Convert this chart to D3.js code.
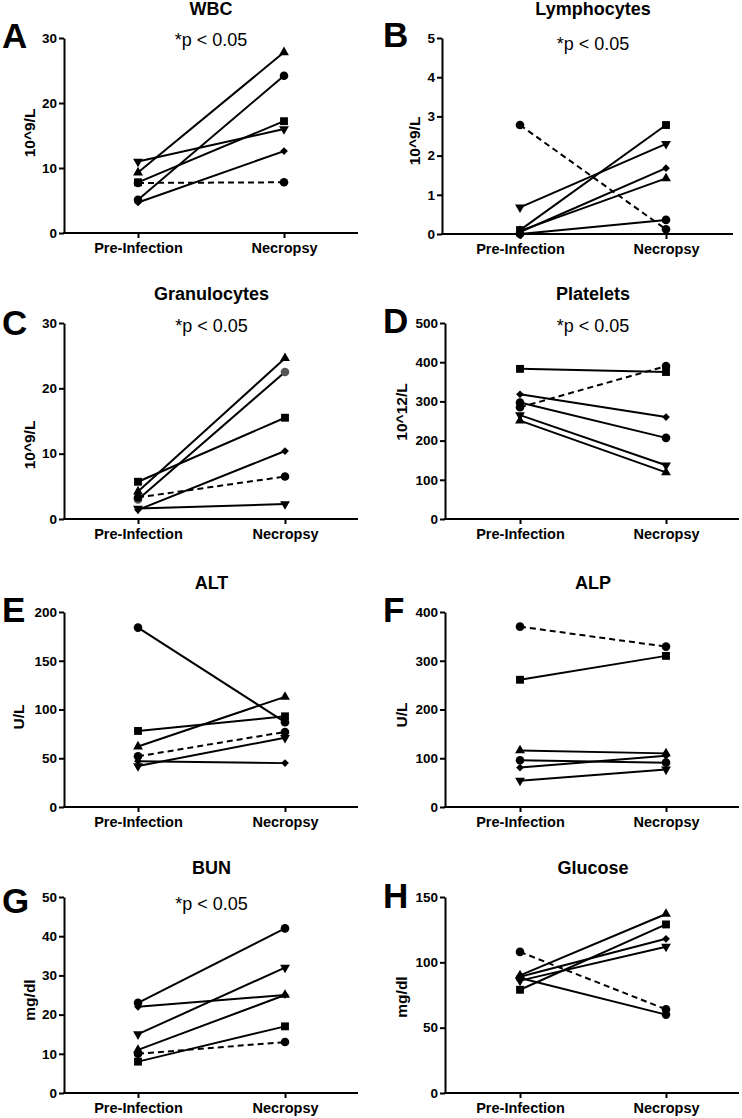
<!DOCTYPE html>
<html><head><meta charset="utf-8">
<script src="https://cdn.jsdelivr.net/npm/d3@7"></script>
<style>
body{margin:0;background:#fff}
svg{display:block}
text{font-family:"Liberation Sans",Arial,Helvetica,sans-serif;fill:#000}
</style>
</head><body>
<svg id="chart" width="742" height="1118"></svg>
<script>
// ---------- data ----------
const timepoints = ["Pre-Infection", "Necropsy"];
// subject order: solid-line circle, dashed-line circle, square, triangle up, triangle down, diamond
const subjects = ["circleSolid", "circleDashed", "square", "triangleUp", "triangleDown", "diamond"];

const panelLetters = ["A", "B", "C", "D", "E", "F", "G", "H"];
const panelTitles = ["WBC", "Lymphocytes", "Granulocytes", "Platelets", "ALT", "ALP", "BUN", "Glucose"];
const yAxisLabels = ["10^9/L", "10^9/L", "10^9/L", "10^12/L", "U/L", "U/L", "mg/dl", "mg/dl"];
const pValueLabels = ["*p < 0.05", "*p < 0.05", "*p < 0.05", "*p < 0.05", "", "", "*p < 0.05", ""];

const wbcTicks = [0, 10, 20, 30];
const lymphTicks = [0, 1, 2, 3, 4, 5];
const granTicks = [0, 10, 20, 30];
const pltTicks = [0, 100, 200, 300, 400, 500];
const altTicks = [0, 50, 100, 150, 200];
const alpTicks = [0, 100, 200, 300, 400];
const bunTicks = [0, 10, 20, 30, 40, 50];
const gluTicks = [0, 50, 100, 150];

const wbcPre = [5.1, 7.7, 7.8, 9.3, 11.0, 4.7];
const wbcNec = [24.2, 7.8, 17.2, 27.8, 16.0, 12.6];
const lymphPre = [0.0, 2.78, 0.1, 0.08, 0.68, 0.05];
const lymphNec = [0.36, 0.12, 2.78, 1.42, 2.3, 1.68];
const granPre = [3.0, 3.3, 5.7, 4.2, 1.6, 1.4];
const granNec = [22.5, 6.5, 15.5, 24.6, 2.3, 10.4];
const pltPre = [297, 285, 383, 251, 265, 318];
const pltNec = [207, 390, 375, 119, 137, 260];
const altPre = [184, 52, 78, 62, 42, 47];
const altNec = [87, 77, 93, 113, 71, 45];
const alpPre = [96, 370, 261, 116, 54, 81];
const alpNec = [91, 329, 310, 110, 77, 105];
const bunPre = [23, 10, 8, 11, 15, 22];
const bunNec = [42, 13, 17, 25, 32, 25];
const gluPre = [88, 108, 79, 90, 86, 89];
const gluNec = [60, 64, 129, 137, 112, 118];

const panelTicks = [wbcTicks, lymphTicks, granTicks, pltTicks, altTicks, alpTicks, bunTicks, gluTicks];
const panelPre = [wbcPre, lymphPre, granPre, pltPre, altPre, alpPre, bunPre, gluPre];
const panelNec = [wbcNec, lymphNec, granNec, pltNec, altNec, alpNec, bunNec, gluNec];

// ---------- layout (pixels) ----------
const layout = [
  {ax: 64,  xEnd: 358, px: 138, nx: 284, top: 38,  bottom: 233, lx: 2,   ly: 48,  ylx: 29,  yly: 133,  pOff: 8},
  {ax: 442, xEnd: 733, px: 520, nx: 666, top: 38,  bottom: 234, lx: 383, ly: 47,  ylx: 414, yly: 141,  pOff: 12},
  {ax: 64,  xEnd: 358, px: 138, nx: 285, top: 323, bottom: 519, lx: 2,   ly: 335, ylx: 29,  yly: 445,  pOff: 9},
  {ax: 445, xEnd: 739, px: 520, nx: 666, top: 323, bottom: 519, lx: 383, ly: 333, ylx: 401, yly: 412,  pOff: 9},
  {ax: 64,  xEnd: 358, px: 138, nx: 285, top: 612, bottom: 807, lx: 2,   ly: 622, ylx: 18,  yly: 717,  pOff: 0},
  {ax: 445, xEnd: 739, px: 520, nx: 666, top: 612, bottom: 807, lx: 383, ly: 622, ylx: 401, yly: 715,  pOff: 0},
  {ax: 64,  xEnd: 358, px: 138, nx: 285, top: 897, bottom: 1093, lx: 2,  ly: 913, ylx: 29,  yly: 1000, pOff: 13},
  {ax: 445, xEnd: 739, px: 520, nx: 666, top: 897, bottom: 1093, lx: 383, ly: 908, ylx: 401, yly: 997, pOff: 9}
];

const svg = d3.select("#chart");

const symGen = {
  circleSolid: d3.symbol(d3.symbolCircle, 58),
  circleDashed: d3.symbol(d3.symbolCircle, 58),
  square: d3.symbol(d3.symbolSquare, 62),
  triangleUp: d3.symbol(d3.symbolTriangle, 42),
  triangleDown: d3.symbol(d3.symbolTriangle, 42),
  diamond: d3.symbol(d3.symbolSquare, 30)
};
const symRot = {circleSolid: 0, circleDashed: 0, square: 0, triangleUp: 0, triangleDown: 180, diamond: 45};

panelTitles.forEach((title, i) => {
  const L = layout[i];
  const ticks = panelTicks[i];
  const y = d3.scaleLinear().domain([0, d3.max(ticks)]).range([L.bottom, L.top]);
  const x = d3.scalePoint().domain(timepoints).range([L.px, L.nx]);
  const g = svg.append("g");

  // y axis
  const yAx = g.append("g").attr("transform", `translate(${L.ax},0)`)
    .call(d3.axisLeft(y).tickValues(ticks).tickFormat(d3.format("d"))
      .tickSize(5).tickSizeOuter(0).tickPadding(2));
  yAx.select(".domain").attr("stroke", "#000").attr("stroke-width", 2);
  yAx.selectAll(".tick line").attr("stroke", "#000").attr("stroke-width", 2);
  yAx.selectAll(".tick text").attr("font-size", 13.5).attr("font-weight", "bold")
    .attr("font-family", "Liberation Sans, Arial, sans-serif").attr("fill", "#000");

  // x axis
  const xAx = g.append("g").attr("transform", `translate(0,${L.bottom})`)
    .call(d3.axisBottom(x).tickSize(5).tickSizeOuter(0).tickPadding(5));
  xAx.select(".domain").remove();
  xAx.selectAll(".tick line").attr("stroke", "#000").attr("stroke-width", 2);
  xAx.selectAll(".tick text").attr("font-size", 14.5).attr("font-weight", "bold")
    .attr("font-family", "Liberation Sans, Arial, sans-serif").attr("fill", "#000");
  g.append("line").attr("x1", L.ax - 1).attr("x2", L.xEnd).attr("y1", L.bottom).attr("y2", L.bottom)
    .attr("stroke", "#000").attr("stroke-width", 2);

  // title, p-value, letter, y label
  const midX = (L.px + L.nx) / 2;
  g.append("text").attr("x", midX).attr("y", L.top - 23.5).attr("text-anchor", "middle")
    .attr("font-size", 18).attr("font-weight", "bold").text(title);
  if (pValueLabels[i]) {
    g.append("text").attr("x", midX).attr("y", L.top + L.pOff).attr("text-anchor", "middle")
      .attr("font-size", 18).text(pValueLabels[i]);
  }
  g.append("text").attr("x", L.lx).attr("y", L.ly).attr("font-size", 35).attr("font-weight", "bold")
    .text(panelLetters[i]);
  g.append("text").attr("transform", `translate(${L.ylx},${L.yly}) rotate(-90)`)
    .attr("text-anchor", "middle").attr("dominant-baseline", "central")
    .attr("font-size", 15.5).attr("font-weight", "bold").text(yAxisLabels[i]);

  // data
  const rows = subjects.map((s, k) => ({s, k, pre: panelPre[i][k], nec: panelNec[i][k]}));
  g.selectAll("line.subj").data(rows).join("line").attr("class", "subj")
    .attr("x1", x(timepoints[0])).attr("x2", x(timepoints[1]))
    .attr("y1", d => y(d.pre)).attr("y2", d => y(d.nec))
    .attr("stroke", "#000").attr("stroke-width", 2)
    .attr("stroke-dasharray", d => d.s === "circleDashed" ? "6,4" : null);

  const pts = [];
  rows.forEach(d => {
    pts.push({s: d.s, t: timepoints[0], v: d.pre});
    pts.push({s: d.s, t: timepoints[1], v: d.nec});
  });
  g.selectAll("path.mk").data(pts).join("path").attr("class", "mk")
    .attr("d", d => symGen[d.s]())
    .attr("transform", d => `translate(${x(d.t)},${y(d.v)}) rotate(${symRot[d.s]})`)
    .attr("fill", d => (i === 2 && d.s === "circleSolid") ? "#555" : "#000");
});
</script>
</body></html>
